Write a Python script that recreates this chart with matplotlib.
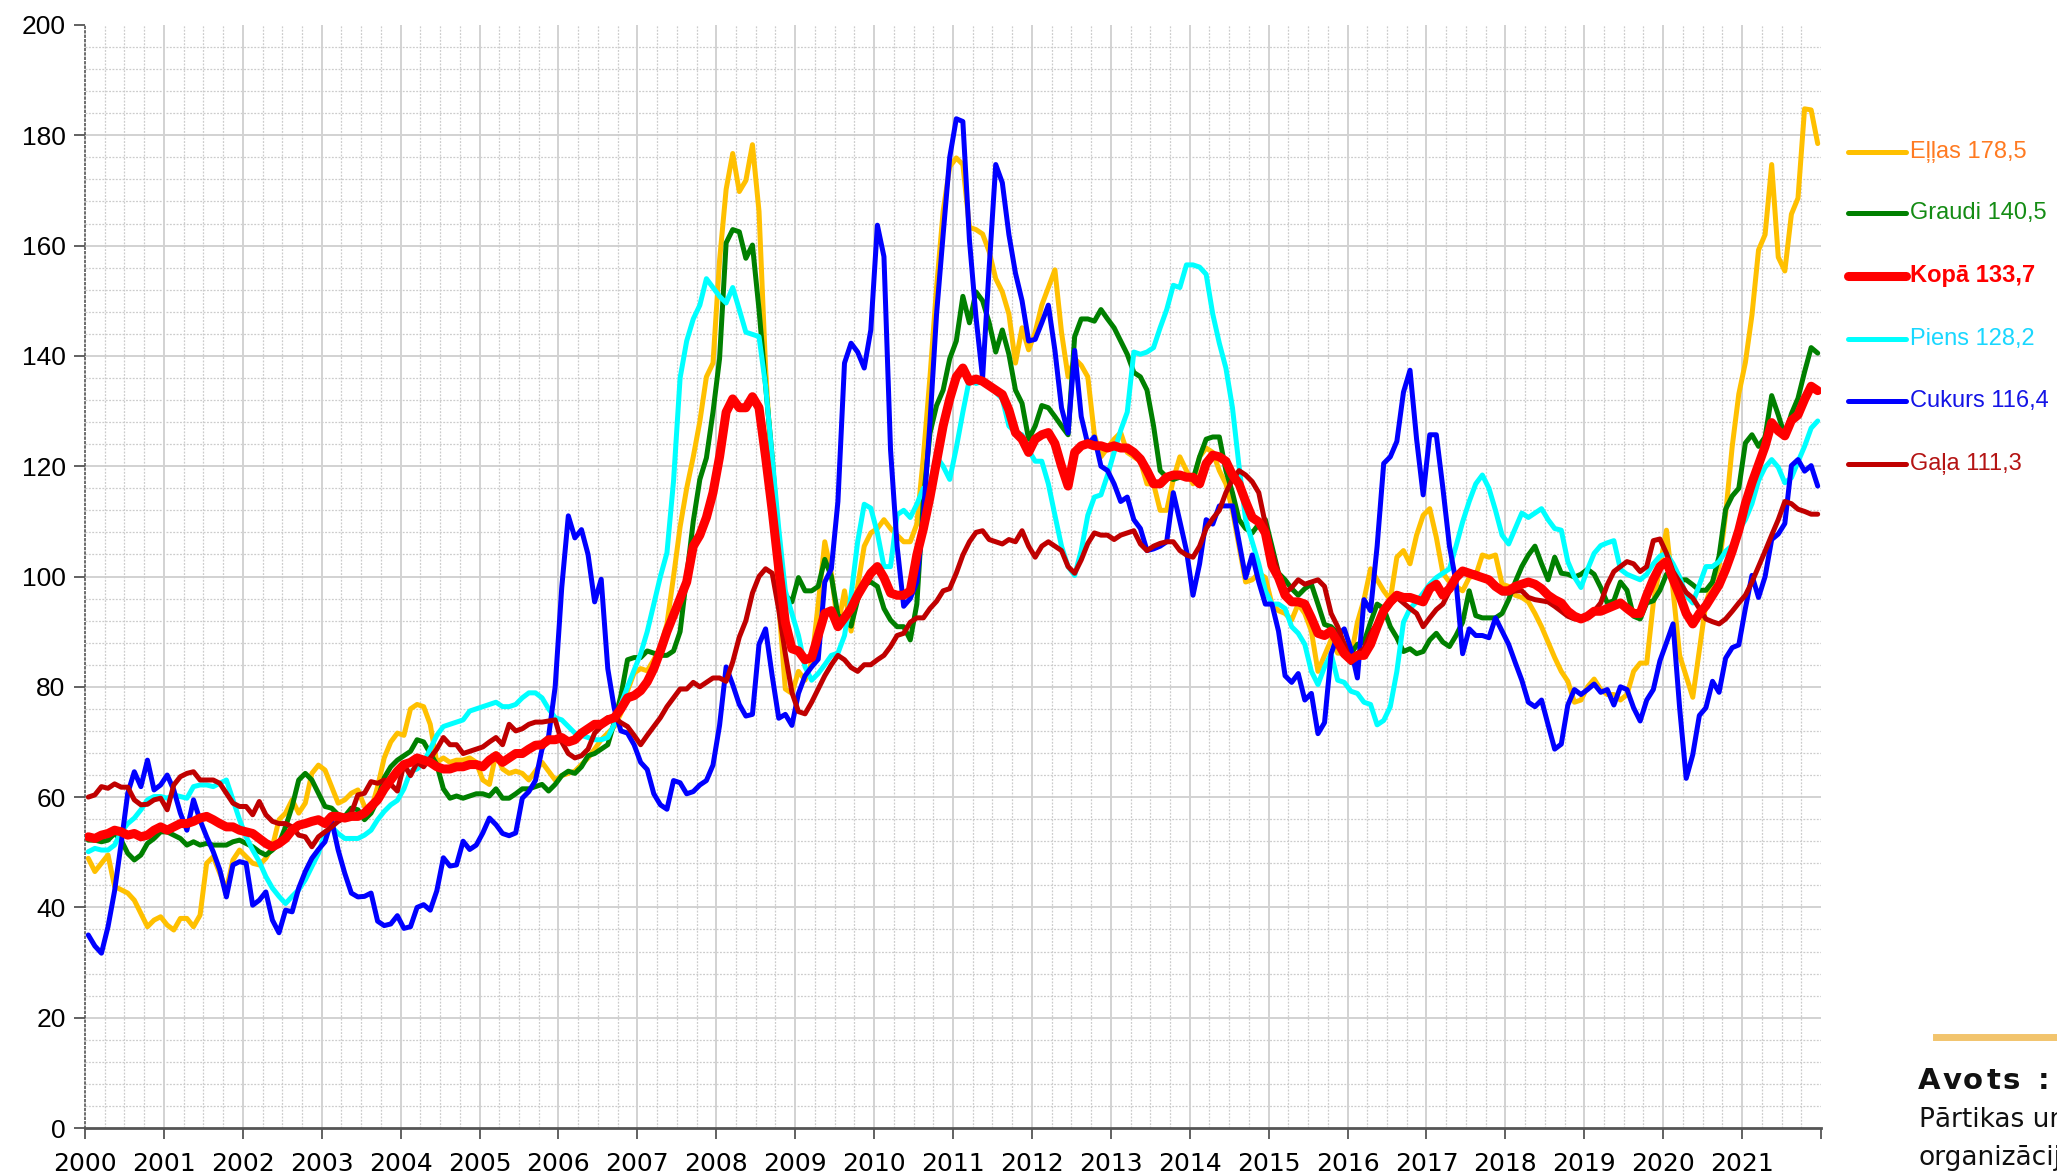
import numpy as np
import matplotlib.pyplot as plt
from matplotlib.lines import Line2D
from matplotlib.ticker import FixedLocator, MultipleLocator

# FAO cenu indeksi (2014-2016 = 100), mēneša dati 2000-2021
ellas = [
    48.9, 46.5, 48.0, 49.5, 43.8, 43.2, 42.6, 41.3, 38.9, 36.5, 37.7, 38.3,  # 2000
    36.8, 35.9, 38.0, 38.0, 36.5, 38.6, 48.0, 49.2, 46.2, 43.2, 48.6, 50.4,  # 2001
    49.2, 48.0, 47.7, 48.9, 51.0, 55.9, 57.1, 59.5, 57.1, 58.9, 64.3, 65.8,  # 2002
    64.9, 61.9, 58.9, 59.5, 60.7, 61.3, 58.3, 57.7, 61.9, 67.1, 70.0, 71.6,  # 2003
    71.2, 76.0, 76.8, 76.4, 73.2, 66.3, 67.1, 66.3, 66.7, 66.7, 67.1, 66.3,  # 2004
    63.1, 62.3, 67.9, 65.1, 64.3, 64.7, 64.3, 63.1, 64.7, 66.3, 64.7, 63.1,  # 2005
    63.9, 64.3, 64.7, 65.9, 67.1, 68.7, 70.4, 71.6, 72.8, 75.2, 79.3, 82.5,  # 2006
    83.3, 82.9, 84.9, 87.3, 91.4, 100.0, 109.0, 116.0, 121.7, 128.1, 136.2, 138.7,  # 2007
    157.3, 170.2, 176.7, 169.8, 171.8, 178.3, 166.2, 137.8, 117.6, 95.0, 79.6, 78.8,  # 2008
    82.8, 81.2, 84.4, 95.0, 106.3, 100.6, 90.9, 97.4, 90.1, 98.2, 105.5, 107.9,  # 2009
    108.7, 110.3, 108.7, 107.5, 106.3, 106.3, 109.5, 121.7, 136.2, 152.4, 166.2, 174.3,  # 2010
    175.9, 174.7, 163.3, 162.9, 162.1, 158.9, 154.0, 151.6, 147.6, 138.7, 145.1, 141.1,  # 2011
    144.3, 149.2, 152.4, 155.6, 144.3, 136.2, 139.5, 138.3, 136.2, 125.7, 121.7, 123.3,  # 2012
    124.9, 126.1, 122.5, 121.7, 120.9, 116.8, 116.8, 112.0, 112.0, 117.6, 121.7, 119.2,  # 2013
    116.8, 121.7, 123.3, 122.5, 119.2, 116.8, 112.0, 105.5, 99.0, 99.4, 100.6, 99.8,  # 2014
    95.0, 93.8, 93.3, 92.1, 95.0, 93.3, 90.1, 82.8, 85.7, 88.5, 86.1, 86.1,  # 2015
    85.3, 91.7, 95.8, 101.4, 99.4, 97.4, 95.8, 103.5, 104.7, 102.3, 107.5, 111.1,  # 2016
    112.3, 107.1, 100.6, 99.0, 98.2, 97.4, 99.8, 100.2, 103.9, 103.5, 103.9, 98.6,  # 2017
    98.2, 96.6, 96.2, 95.4, 93.3, 90.9, 88.1, 85.3, 82.8, 81.0, 77.2, 77.6,  # 2018
    80.0, 81.4, 79.5, 78.6, 78.6, 77.6, 78.6, 82.8, 84.3, 84.3, 95.2, 101.8,  # 2019
    108.4, 97.5, 85.7, 81.9, 78.1, 86.6, 95.2, 99.0, 101.8, 111.3, 123.6, 133.1,  # 2020
    138.8, 147.4, 159.2, 162.0, 174.7, 157.9, 155.4, 165.7, 168.6, 184.8, 184.6, 178.5,  # 2021
]

graudi = [
    52.2, 52.2, 51.9, 52.2, 53.4, 52.2, 49.8, 48.6, 49.5, 51.6, 52.5, 53.7,  # 2000
    53.7, 53.1, 52.5, 51.3, 51.9, 51.3, 51.6, 51.3, 51.3, 51.3, 51.9, 52.2,  # 2001
    51.6, 51.0, 50.1, 49.5, 50.4, 51.6, 54.6, 58.3, 63.1, 64.3, 63.1, 60.7,  # 2002
    58.3, 58.0, 56.8, 56.5, 58.0, 57.7, 55.9, 57.1, 59.5, 63.5, 65.5, 66.7,  # 2003
    67.5, 68.3, 70.4, 70.0, 67.9, 65.9, 61.5, 59.8, 60.2, 59.8, 60.2, 60.6,  # 2004
    60.6, 60.2, 61.5, 59.8, 59.8, 60.6, 61.5, 61.5, 61.9, 62.3, 61.1, 62.3,  # 2005
    63.9, 64.7, 64.3, 65.5, 67.5, 67.9, 68.7, 69.5, 73.6, 78.4, 84.9, 85.3,  # 2006
    85.3, 86.5, 86.1, 85.7, 85.7, 86.5, 90.0, 100.0, 110.0, 117.6, 121.5, 129.8,  # 2007
    139.5, 160.5, 162.9, 162.5, 157.7, 160.1, 148.4, 134.6, 121.7, 105.5, 96.6, 95.4,  # 2008
    99.8, 97.4, 97.4, 98.2, 103.1, 100.0, 93.0, 92.0, 91.0, 95.8, 98.6, 99.0,  # 2009
    98.2, 94.2, 92.1, 90.9, 90.9, 88.5, 95.0, 114.0, 126.0, 131.0, 133.8, 139.5,  # 2010
    142.7, 150.8, 146.0, 151.6, 150.0, 146.0, 140.7, 144.7, 140.3, 133.8, 131.4, 124.9,  # 2011
    127.3, 131.0, 130.6, 129.0, 127.3, 125.7, 143.5, 146.7, 146.7, 146.3, 148.4, 146.7,  # 2012
    145.1, 142.7, 140.3, 137.0, 136.2, 133.8, 127.3, 119.2, 118.0, 117.6, 118.0, 118.0,  # 2013
    117.6, 121.7, 124.9, 125.3, 125.3, 119.2, 115.2, 110.3, 108.7, 107.9, 109.5, 110.3,  # 2014
    105.5, 100.6, 99.4, 97.8, 96.6, 97.8, 98.6, 95.0, 91.3, 90.9, 89.7, 87.7,  # 2015
    86.0, 87.7, 88.1, 91.7, 95.0, 94.2, 90.9, 88.9, 86.4, 86.9, 86.0, 86.4,  # 2016
    88.5, 89.7, 88.1, 87.3, 89.3, 91.7, 97.4, 92.9, 92.5, 92.5, 92.5, 93.3,  # 2017
    95.8, 99.0, 101.8, 103.9, 105.5, 102.3, 99.4, 103.5, 100.6, 100.4, 99.9, 100.4,  # 2018
    101.3, 100.4, 98.0, 95.2, 95.6, 99.0, 97.5, 92.8, 92.3, 95.2, 95.6, 97.5,  # 2019
    100.4, 99.9, 99.4, 99.4, 98.5, 97.5, 97.5, 99.0, 103.7, 112.2, 114.6, 116.0,  # 2020
    124.2, 125.7, 123.6, 125.3, 132.8, 129.3, 125.5, 129.5, 132.3, 137.1, 141.5, 140.5,  # 2021
]

kopa = [
    52.8, 52.5, 53.1, 53.4, 54.0, 53.7, 53.1, 53.4, 52.8, 53.1, 54.0, 54.6,  # 2000
    54.0, 54.6, 55.2, 55.2, 55.6, 56.2, 56.5, 55.9, 55.2, 54.6, 54.6, 54.0,  # 2001
    53.7, 53.4, 52.5, 51.6, 51.0, 51.6, 52.5, 54.0, 54.9, 55.2, 55.6, 55.9,  # 2002
    55.2, 56.5, 56.5, 56.2, 56.5, 56.5, 57.1, 58.3, 59.5, 61.5, 63.1, 64.7,  # 2003
    65.9, 66.3, 67.1, 66.7, 66.3, 65.5, 65.1, 65.1, 65.5, 65.5, 65.9, 65.9,  # 2004
    65.5, 66.7, 67.5, 66.3, 67.1, 67.9, 67.9, 68.7, 69.4, 69.5, 70.4, 70.4,  # 2005
    70.8, 70.0, 70.4, 71.6, 72.4, 73.2, 73.2, 74.0, 74.4, 76.0, 78.0, 78.4,  # 2006
    79.3, 80.9, 83.3, 86.5, 90.0, 93.0, 96.0, 99.0, 105.5, 107.5, 110.7, 115.2,  # 2007
    121.7, 129.8, 132.2, 130.6, 130.6, 132.6, 130.6, 121.7, 112.0, 101.4, 91.7, 86.9,  # 2008
    86.5, 84.9, 85.3, 89.3, 93.3, 93.8, 90.9, 92.5, 94.2, 96.6, 98.6, 100.6,  # 2009
    101.8, 99.8, 97.0, 96.6, 96.6, 97.4, 103.9, 108.7, 114.4, 120.9, 127.3, 132.2,  # 2010
    136.2, 137.8, 135.4, 135.8, 135.4, 134.6, 133.8, 133.0, 130.2, 126.1, 124.9, 122.5,  # 2011
    124.9, 125.7, 126.1, 124.1, 120.0, 116.4, 122.5, 123.7, 124.1, 123.7, 123.7, 123.3,  # 2012
    123.7, 123.3, 123.3, 122.5, 121.3, 119.2, 116.8, 116.8, 118.0, 118.4, 118.4, 118.0,  # 2013
    118.0, 116.8, 120.5, 122.0, 121.7, 120.9, 118.4, 116.8, 113.6, 110.7, 109.9, 107.9,  # 2014
    102.0, 99.8, 96.6, 95.4, 95.4, 95.0, 92.5, 89.7, 89.3, 90.1, 88.1, 86.0,  # 2015
    84.9, 85.7, 85.7, 87.7, 90.9, 93.8, 95.4, 96.6, 96.2, 96.2, 95.8, 95.4,  # 2016
    97.8, 98.6, 96.6, 97.8, 99.8, 101.0, 100.6, 100.2, 99.8, 99.4, 98.2, 97.4,  # 2017
    97.4, 98.2, 98.6, 99.0, 98.6, 97.8, 96.6, 95.8, 95.2, 93.7, 92.8, 92.3,  # 2018
    92.8, 93.7, 93.7, 94.2, 94.7, 95.2, 94.2, 93.3, 93.3, 96.6, 99.5, 101.8,  # 2019
    102.7, 99.5, 96.6, 93.3, 91.4, 93.3, 94.7, 96.6, 98.5, 101.3, 104.6, 108.4,  # 2020
    113.2, 117.0, 120.3, 123.6, 127.9, 126.4, 125.5, 128.3, 129.3, 132.1, 134.5, 133.7,  # 2021
]

piens = [
    50.1, 50.7, 50.4, 50.4, 51.3, 53.7, 55.2, 56.2, 57.7, 59.5, 60.1, 60.1,  # 2000
    59.8, 60.4, 60.1, 59.8, 61.9, 62.2, 62.2, 61.9, 62.5, 63.1, 59.5, 55.9,  # 2001
    52.8, 50.4, 48.3, 45.6, 43.5, 42.0, 40.7, 42.0, 43.2, 45.0, 47.4, 49.8,  # 2002
    53.4, 54.6, 53.4, 52.5, 52.5, 52.5, 53.1, 54.0, 55.9, 57.4, 58.6, 59.4,  # 2003
    61.5, 64.7, 65.1, 66.3, 68.7, 71.2, 72.8, 73.2, 73.6, 74.0, 75.6, 76.0,  # 2004
    76.4, 76.8, 77.2, 76.4, 76.4, 76.8, 78.0, 78.9, 78.9, 78.0, 76.0, 74.4,  # 2005
    74.0, 72.8, 71.6, 71.2, 70.8, 70.4, 70.4, 70.8, 73.2, 76.8, 80.0, 83.0,  # 2006
    86.0, 90.0, 95.0, 100.0, 104.3, 117.3, 136.0, 142.7, 146.7, 149.2, 154.0, 152.4,  # 2007
    150.8, 149.6, 152.4, 148.4, 144.3, 143.9, 143.5, 134.6, 121.7, 108.7, 97.4, 93.3,  # 2008
    89.3, 83.6, 81.2, 82.4, 84.0, 85.7, 86.1, 89.3, 96.6, 106.3, 113.1, 112.4,  # 2009
    107.9, 101.8, 101.8, 111.2, 112.0, 110.7, 113.1, 116.0, 116.8, 121.7, 120.0, 117.6,  # 2010
    123.3, 129.8, 135.8, 135.0, 135.4, 135.0, 133.4, 132.2, 127.3, 126.1, 125.7, 122.9,  # 2011
    120.9, 120.9, 116.8, 111.1, 105.5, 101.8, 100.2, 104.7, 111.1, 114.4, 114.8, 118.4,  # 2012
    122.5, 126.5, 129.8, 140.7, 140.3, 140.7, 141.5, 145.1, 148.4, 152.8, 152.4, 156.5,  # 2013
    156.5, 156.1, 154.8, 147.6, 142.3, 137.8, 130.6, 120.0, 110.3, 106.3, 102.3, 97.4,  # 2014
    95.0, 95.0, 94.2, 90.9, 89.7, 87.7, 82.8, 80.4, 83.6, 86.0, 81.2, 80.8,  # 2015
    79.2, 78.8, 77.2, 76.8, 73.1, 73.9, 76.4, 82.8, 91.7, 94.2, 95.4, 97.0,  # 2016
    98.6, 99.8, 100.6, 101.4, 105.5, 109.9, 113.6, 116.8, 118.4, 116.0, 112.0, 107.5,  # 2017
    105.9, 108.7, 111.5, 110.7, 111.5, 112.3, 110.3, 108.7, 108.4, 102.7, 99.9, 98.0,  # 2018
    101.3, 104.2, 105.6, 106.1, 106.5, 101.3, 100.4, 99.9, 99.4, 100.4, 102.3, 103.7,  # 2019
    104.2, 102.3, 99.9, 96.6, 95.2, 98.5, 101.8, 101.8, 102.7, 104.6, 105.6, 108.4,  # 2020
    110.3, 113.2, 117.4, 119.8, 121.2, 119.8, 117.0, 117.9, 120.8, 123.6, 126.9, 128.2,  # 2021
]

cukurs = [
    35.0, 33.0, 31.7, 36.5, 43.0, 51.6, 60.7, 64.6, 61.9, 66.7, 61.3, 62.2,  # 2000
    64.0, 61.3, 57.1, 54.0, 59.5, 55.8, 52.8, 50.1, 46.8, 41.9, 47.7, 48.3,  # 2001
    48.0, 40.4, 41.3, 42.8, 37.7, 35.4, 39.5, 39.2, 43.5, 46.5, 48.9, 50.5,  # 2002
    51.9, 55.8, 50.4, 46.2, 42.6, 41.9, 42.0, 42.6, 37.5, 36.7, 37.0, 38.5,  # 2003
    36.2, 36.5, 40.0, 40.5, 39.5, 43.0, 49.0, 47.5, 47.7, 52.0, 50.5, 51.3,  # 2004
    53.5, 56.2, 55.0, 53.4, 53.0, 53.5, 59.8, 61.0, 63.0, 68.7, 71.0, 80.0,  # 2005
    98.0, 111.0, 107.0, 108.5, 104.0, 95.4, 99.5, 83.3, 76.0, 72.0, 71.6, 69.5,  # 2006
    66.3, 65.0, 60.6, 58.6, 57.8, 63.0, 62.6, 60.6, 61.0, 62.2, 63.0, 65.8,  # 2007
    73.0, 83.6, 80.4, 76.8, 74.7, 75.0, 87.7, 90.5, 82.0, 74.3, 75.0, 73.0,  # 2008
    78.8, 82.0, 83.6, 85.0, 99.0, 101.4, 113.6, 138.7, 142.3, 140.7, 137.8, 144.7,  # 2009
    163.7, 158.0, 123.0, 105.5, 94.6, 96.0, 99.0, 111.0, 128.0, 147.6, 162.0, 176.0,  # 2010
    183.0, 182.5, 161.0, 147.0, 136.0, 156.0, 174.7, 171.4, 162.0, 155.0, 150.0, 142.7,  # 2011
    143.0, 146.0, 149.2, 141.0, 130.6, 126.0, 141.0, 129.0, 124.0, 125.3, 120.0, 119.2,  # 2012
    116.8, 113.6, 114.4, 110.3, 108.7, 104.7, 105.0, 105.5, 106.3, 115.2, 110.0, 104.7,  # 2013
    96.6, 102.3, 110.3, 109.5, 112.8, 112.8, 112.8, 106.3, 99.8, 103.9, 99.0, 95.0,  # 2014
    95.0, 90.1, 82.0, 80.8, 82.4, 77.6, 78.8, 71.5, 73.5, 86.0, 89.3, 90.5,  # 2015
    86.9, 81.6, 95.8, 93.8, 105.5, 120.5, 121.7, 124.5, 133.4, 137.4, 124.9, 114.8,  # 2016
    125.7, 125.7, 116.0, 105.5, 99.0, 86.0, 90.5, 89.3, 89.3, 88.9, 92.5, 90.1,  # 2017
    87.7, 84.4, 81.2, 77.2, 76.4, 77.6, 73.1, 68.7, 69.6, 76.7, 79.5, 78.6,  # 2018
    79.5, 80.5, 79.0, 79.5, 76.7, 80.0, 79.5, 76.2, 73.8, 77.6, 79.5, 84.7,  # 2019
    88.0, 91.4, 76.2, 63.4, 67.7, 74.8, 76.2, 81.0, 79.0, 85.2, 87.1, 87.6,  # 2020
    94.2, 100.2, 96.2, 100.0, 106.7, 107.7, 109.6, 120.1, 121.2, 119.1, 120.1, 116.4,  # 2021
]

gala = [
    60.0, 60.4, 61.9, 61.6, 62.4, 61.8, 61.8, 59.5, 58.6, 58.7, 59.5, 59.8,  # 2000
    57.7, 62.2, 63.7, 64.3, 64.6, 63.1, 63.1, 63.1, 62.5, 60.7, 58.9, 58.3,  # 2001
    58.3, 56.8, 59.2, 56.8, 55.6, 55.2, 55.2, 54.6, 53.1, 52.8, 51.0, 52.8,  # 2002
    53.7, 54.6, 55.6, 56.2, 57.1, 60.4, 60.7, 62.8, 62.5, 63.1, 62.3, 61.1,  # 2003
    65.9, 63.9, 66.3, 65.5, 67.1, 68.7, 70.8, 69.5, 69.5, 67.9, 68.3, 68.7,  # 2004
    69.1, 70.0, 70.8, 69.5, 73.2, 72.0, 72.4, 73.2, 73.6, 73.6, 73.8, 74.0,  # 2005
    70.0, 67.9, 67.1, 67.5, 68.7, 71.6, 72.8, 74.4, 74.4, 73.5, 72.8, 71.2,  # 2006
    69.5, 71.2, 72.8, 74.4, 76.4, 78.0, 79.6, 79.6, 80.8, 80.0, 80.8, 81.6,  # 2007
    81.6, 81.0, 84.5, 89.0, 92.0, 97.0, 100.0, 101.4, 100.6, 94.0, 86.0, 79.0,  # 2008
    75.5, 75.1, 77.2, 79.6, 82.0, 84.0, 85.7, 84.9, 83.5, 82.8, 84.0, 84.0,  # 2009
    84.9, 85.7, 87.3, 89.3, 89.7, 91.7, 92.5, 92.5, 94.2, 95.5, 97.4, 97.8,  # 2010
    100.6, 103.9, 106.3, 108.0, 108.3, 106.7, 106.3, 105.9, 106.7, 106.3, 108.3, 105.5,  # 2011
    103.5, 105.5, 106.3, 105.5, 104.7, 101.8, 100.6, 103.0, 106.0, 107.9, 107.5, 107.5,  # 2012
    106.7, 107.5, 107.9, 108.3, 105.9, 104.7, 105.5, 106.0, 106.3, 106.3, 104.7, 103.9,  # 2013
    103.5, 105.5, 108.7, 110.5, 112.0, 115.2, 117.6, 119.2, 118.4, 117.2, 115.2, 109.5,  # 2014
    104.5, 100.5, 97.0, 98.0, 99.4, 98.6, 99.0, 99.4, 98.2, 93.3, 90.9, 87.7,  # 2015
    84.4, 86.0, 86.9, 89.7, 91.5, 93.3, 95.0, 96.2, 95.2, 94.2, 93.3, 90.9,  # 2016
    92.5, 94.0, 95.0, 97.4, 99.4, 101.0, 100.8, 100.6, 99.8, 99.0, 98.6, 97.0,  # 2017
    97.0, 97.4, 97.4, 96.2, 95.8, 95.6, 95.4, 94.6, 93.7, 92.8, 92.3, 92.3,  # 2018
    92.8, 93.7, 95.2, 98.5, 100.9, 101.8, 102.7, 102.3, 100.9, 101.8, 106.5, 106.8,  # 2019
    104.2, 100.9, 99.0, 97.1, 96.1, 94.2, 92.3, 91.8, 91.4, 92.3, 93.7, 95.2,  # 2020
    96.6, 99.0, 101.8, 104.6, 107.5, 110.3, 113.6, 113.2, 112.2, 111.8, 111.3, 111.3,  # 2021
]

years = list(range(2000, 2022))

# nosaukums, dati, līnijas krāsa, teksta krāsa, biezums, treknraksts
series = [
    ("Eļļas", ellas, "#FFC000", "#FF7A21", 3.6, False),
    ("Graudi", graudi, "#008000", "#148C14", 3.6, False),
    ("Kopā", kopa, "#FF0000", "#FF0000", 6.5, True),
    ("Piens", piens, "#00FFFF", "#19D7FF", 3.6, False),
    ("Cukurs", cukurs, "#0000FF", "#1414E6", 3.6, False),
    ("Gaļa", gala, "#C00000", "#B41414", 3.6, False),
]

W, H = 2057, 1175
fig = plt.figure(figsize=(W / 100, H / 100), dpi=100)
ax = fig.add_axes([85 / W, 47 / H, 1736 / W, 1103 / H])

# režģis
for v in range(4, 200, 4):
    if v % 20 == 0:
        ax.axhline(v, color="#d2d2d2", lw=1.4, zorder=0)
    else:
        ax.axhline(v, color="#cccccc", lw=0.9, ls=(0, (1.5, 1.2)), zorder=0)
for q in np.arange(2000.25, 2022, 0.25):
    if abs(q - round(q)) < 1e-6:
        ax.axvline(q, color="#d2d2d2", lw=1.4, zorder=0)
    else:
        ax.axvline(q, color="#cccccc", lw=0.9, ls=(0, (1.5, 1.2)), zorder=0)

order = [0, 1, 3, 4, 5, 2]
for i in order:
    name, vals, col, tcol, lw, bold = series[i]
    x = 2000 + (np.arange(len(vals)) + 0.5) / 12
    ax.plot(x, vals, color=col, lw=lw, solid_joinstyle="round",
            solid_capstyle="round", zorder=3 + i * 0.01 + (1 if bold else 0))

ax.set_xlim(2000, 2022)
ax.set_ylim(0, 200)
ax.xaxis.set_major_locator(FixedLocator(list(range(2000, 2023))))
ax.set_xticklabels([str(y) for y in years] + [""])
ax.yaxis.set_major_locator(MultipleLocator(20))
ax.tick_params(which="major", length=8, width=1.3, color="#555555")
ax.tick_params(axis="y", labelsize=19, pad=6)
ax.tick_params(axis="x", labelsize=18, pad=9)
for lab in ax.get_yticklabels():
    lab.set_family("Liberation Sans")
for lab in ax.get_xticklabels():
    lab.set_family("DejaVu Sans")

ax.spines["top"].set_visible(False)
ax.spines["right"].set_visible(False)
ax.spines["left"].set_color("#555555")
ax.spines["left"].set_linestyle(":")
ax.spines["left"].set_linewidth(1.2)
ax.spines["bottom"].set_color("#555555")
ax.spines["bottom"].set_linewidth(2)

# leģenda labajā pusē
leg_y = [152, 213, 276, 339, 401, 464]
for (name, vals, col, tcol, lw, bold), yp in zip(series, leg_y):
    yf = 1 - yp / H
    fig.add_artist(Line2D([1848 / W, 1906 / W], [yf, yf], transform=fig.transFigure,
                          color=col, lw=lw, solid_capstyle="round"))
    label = f"{name} {vals[-1]:.1f}".replace(".", ",")
    fig.text(1910 / W, yf, label, color=tcol, fontsize=17, va="center", ha="left",
             family="Liberation Sans", fontweight="bold" if bold else "normal")

# avots
fig.add_artist(Line2D([1936 / W, 1.0], [1 - 1037 / H] * 2, transform=fig.transFigure,
                      color="#F2C46D", lw=5))
for ch, xp in zip("Avots:", [1918, 1943, 1963, 1987, 2003, 2038]):
    fig.text(xp / W, 1 - 1089 / H, ch, fontsize=21, fontweight="bold",
             color="#111111", va="baseline", ha="left", family="DejaVu Sans")
fig.text(1919 / W, 1 - 1127 / H, "Pārtikas un lauksaimniecības", fontsize=19,
         color="#111111", va="baseline", ha="left", family="DejaVu Sans")
fig.text(1919 / W, 1 - 1165 / H, "organizācija", fontsize=19,
         color="#111111", va="baseline", ha="left", family="DejaVu Sans")

fig.savefig("out.png", dpi=100)
